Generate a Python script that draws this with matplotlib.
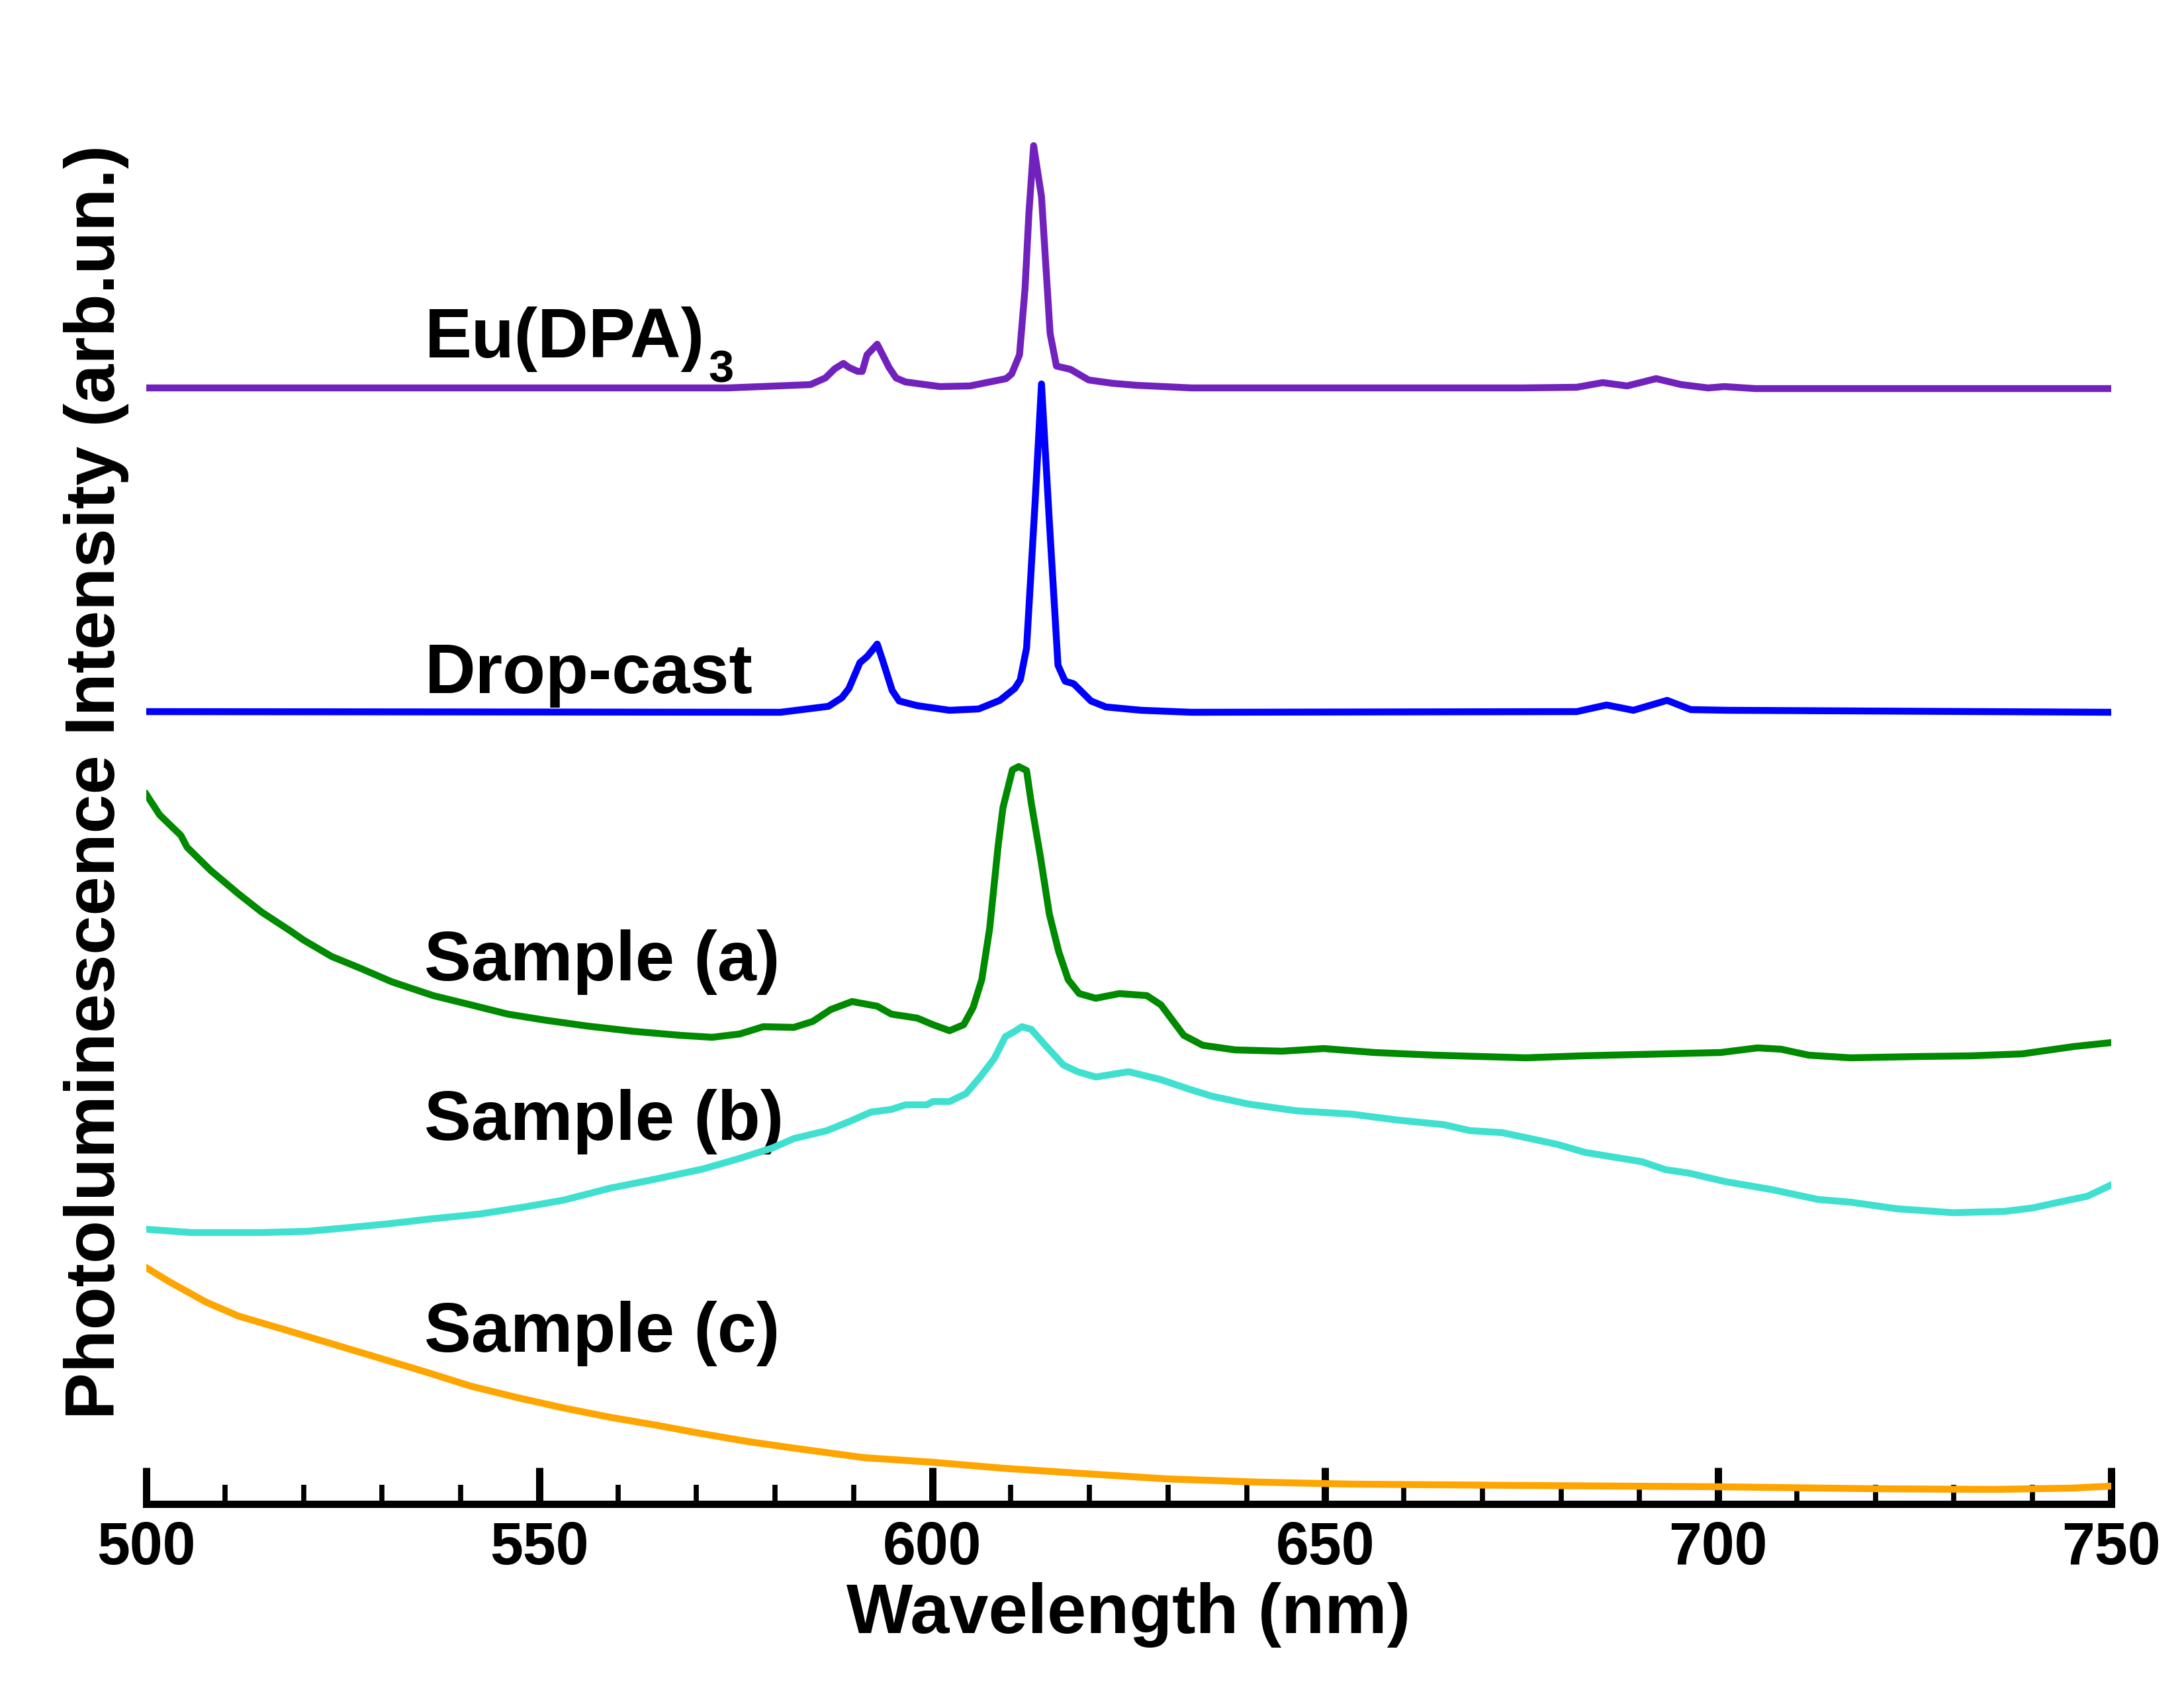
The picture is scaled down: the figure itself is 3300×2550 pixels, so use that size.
import numpy as np
import matplotlib
matplotlib.use('Agg')
from matplotlib import pyplot as plt
from matplotlib.ticker import MultipleLocator

plt.rcParams['font.family'] = ['Liberation Sans', 'DejaVu Sans']
plt.rcParams['font.weight'] = 'bold'

# spectra (intensity in arbitrary units incl. vertical offset)
wl_eu = [500, 574, 584.5, 586.4, 587.6, 588.7, 589.4, 590.5, 591.1, 591.7, 593.0, 594.5, 595.4, 596.6,
	601.0, 604.8, 609.4, 610.1, 611.1, 611.8, 612.3, 612.9, 613.9, 615.0, 615.8, 617.6, 619.9, 622.9,
	625.9, 633, 675, 682, 685.3, 688.4, 692.1, 695.3, 698.7, 700.8, 704.7, 750]
pl_eu = [16.86, 16.86, 16.91, 17.01, 17.15, 17.23, 17.17, 17.11, 17.11, 17.36, 17.52, 17.17, 17.01, 16.95,
	16.88, 16.89, 17.00, 17.07, 17.36, 18.35, 19.50, 20.52, 19.75, 17.68, 17.19, 17.14, 16.98, 16.93,
	16.90, 16.86, 16.86, 16.87, 16.94, 16.89, 17.00, 16.91, 16.86, 16.88, 16.85, 16.85]

wl_drop = [500, 580.7, 586.8, 588.5, 589.4, 590.8, 591.7, 592.4, 593.0, 593.7, 594.9, 595.8, 598.1,
	602.2, 605.9, 608.6, 610.5, 611.2, 612.0, 613.1, 613.9, 614.9, 616.0, 616.9, 618.0, 620.2, 622.1,
	626.6, 633, 682, 685.8, 689.2, 693.5, 696.5, 701.2, 750]
pl_drop = [11.97, 11.96, 12.05, 12.18, 12.32, 12.71, 12.80, 12.90, 12.99, 12.74, 12.29, 12.13, 12.06,
	11.99, 12.01, 12.14, 12.32, 12.45, 12.93, 15.16, 16.92, 14.84, 12.67, 12.43, 12.39, 12.13, 12.04,
	11.99, 11.96, 11.97, 12.07, 11.99, 12.14, 12.00, 11.99, 11.96]

wl_a = [500, 501.7, 504.4, 505.2, 508.2, 511.7, 514.7, 518.3, 520.0, 523.6, 527.1, 531.2, 536.5, 541.3,
	546.0, 550.7, 556.1, 562.0, 567.9, 572.0, 575.5, 578.5, 582.4, 584.8, 587.1, 589.8, 593.0, 594.8,
	598.1, 600.1, 602.2, 604.0, 605.2, 606.3, 607.3, 608.4, 609.0, 610.2, 611.0, 612.0, 612.6, 613.8,
	614.9, 616.1, 617.3, 618.7, 620.8, 623.8, 627.3, 629.1, 632.0, 634.4, 638.5, 644.5, 649.8, 656.3,
	663.9, 675.5, 682.6, 693.3, 700.3, 705.0, 708.0, 711.5, 716.8, 725.7, 732.2, 738.7, 745.2, 750]
pl_a = [10.72, 10.41, 10.10, 9.92, 9.57, 9.22, 8.94, 8.66, 8.52, 8.27, 8.10, 7.89, 7.68, 7.54,
	7.40, 7.31, 7.22, 7.14, 7.08, 7.05, 7.10, 7.21, 7.20, 7.29, 7.47, 7.59, 7.52, 7.40,
	7.34, 7.24, 7.15, 7.24, 7.50, 7.92, 8.69, 9.96, 10.52, 11.09, 11.14, 11.08, 10.59, 9.75,
	8.91, 8.34, 7.92, 7.71, 7.64, 7.71, 7.68, 7.54, 7.08, 6.93, 6.86, 6.84, 6.88, 6.82,
	6.78, 6.74, 6.77, 6.80, 6.82, 6.89, 6.87, 6.78, 6.74, 6.76, 6.77, 6.80, 6.91, 6.97]

wl_b = [500, 505.8, 514.7, 520.6, 525.3, 530.6, 536.5, 542.4, 548.3, 553.1, 559.0, 564.9, 570.8, 575.5,
	579.7, 582.4, 586.6, 589.5, 592.2, 594.8, 596.6, 599.3, 600.1, 602.2, 604.3, 606.1, 607.9, 609.3,
	610.5, 611.4, 612.6, 614.3, 616.7, 618.5, 620.8, 625.0, 629.1, 632.6, 635.6, 640.3, 646.3, 653.3,
	659.2, 665.1, 668.4, 672.5, 676.1, 679.6, 683.1, 690.3, 693.3, 696.2, 700.9, 706.8, 712.7, 716.8,
	722.7, 729.9, 736.4, 739.9, 743.4, 747.0, 750]
pl_b = [4.15, 4.10, 4.10, 4.12, 4.17, 4.23, 4.31, 4.38, 4.49, 4.59, 4.77, 4.91, 5.06, 5.22,
	5.38, 5.52, 5.64, 5.78, 5.92, 5.96, 6.03, 6.03, 6.08, 6.08, 6.20, 6.45, 6.73, 7.06,
	7.14, 7.21, 7.17, 6.94, 6.63, 6.53, 6.45, 6.53, 6.41, 6.27, 6.16, 6.04, 5.94, 5.89,
	5.80, 5.73, 5.64, 5.61, 5.52, 5.43, 5.31, 5.17, 5.05, 5.00, 4.87, 4.75, 4.60, 4.56,
	4.46, 4.40, 4.42, 4.47, 4.56, 4.65, 4.82]

wl_c = [500, 502.9, 507.6, 511.7, 517.7, 523.6, 529.5, 535.4, 541.3, 547.1, 553.1, 559.0, 564.9, 570.8,
	576.7, 582.6, 591.3, 600.1, 609.0, 617.9, 629.7, 641.5, 653.3, 675.1, 700, 720, 735, 745, 750]
pl_c = [3.57, 3.36, 3.05, 2.84, 2.63, 2.42, 2.21, 2.00, 1.78, 1.61, 1.45, 1.31, 1.19, 1.06,
	0.94, 0.84, 0.70, 0.63, 0.54, 0.47, 0.38, 0.33, 0.30, 0.28, 0.26, 0.23, 0.22, 0.24, 0.27]

series = [
	(wl_eu, pl_eu, '#7222bc', 'Eu(DPA)', 17.32),
	(wl_drop, pl_drop, '#0000ff', 'Drop-cast', 12.25),
	(wl_a, pl_a, '#008a00', 'Sample (a)', 7.91),
	(wl_b, pl_b, '#40e0d0', 'Sample (b)', 5.50),
	(wl_c, pl_c, '#ffa500', 'Sample (c)', 2.30),
]

fig = plt.figure(figsize=(11, 8.5), dpi=300)
ax = fig.add_axes([0.06697, 0.10902, 0.89970, 0.89098])

labels = []
for wl, pl, color, name, label_y in series:
	ax.plot(wl, pl, color=color, lw=2.5, zorder=2)
	labels.append(ax.text(535.4, label_y, name, fontsize=25.5, fontweight='bold',
		ha='left', va='baseline', zorder=1))

# subscript 3 of Eu(DPA)3, hung off the end of the first label
ax.annotate('3', xy=(1, 0), xycoords=labels[0], xytext=(1.5, -3.8), textcoords='offset points',
	fontsize=16.5, fontweight='bold', ha='left', va='baseline', zorder=1)

ax.set_xlim(500, 750)
ax.set_ylim(0, 22.72)
for side in ['top', 'right', 'left']:
	ax.spines[side].set_visible(False)
ax.spines['bottom'].set_linewidth(2.64)
ax.spines['bottom'].set_capstyle('projecting')
ax.set_yticks([])
ax.xaxis.set_major_locator(MultipleLocator(50))
ax.xaxis.set_minor_locator(MultipleLocator(10))
ax.tick_params(axis='x', which='major', direction='in', length=13.2, width=2.64, pad=6, labelsize=21.5)
ax.tick_params(axis='x', which='minor', direction='in', length=7, width=1.85)

ax.set_xlabel('Wavelength (nm)', fontsize=25.5, fontweight='bold')
ax.xaxis.set_label_coords(0.5, -0.052)
ax.set_ylabel('Photoluminescence Intensity (arb.un.)', fontsize=25.5, fontweight='bold')
ax.yaxis.set_label_coords(-0.0088, 0.48)

fig.savefig('out.png', dpi=300)
